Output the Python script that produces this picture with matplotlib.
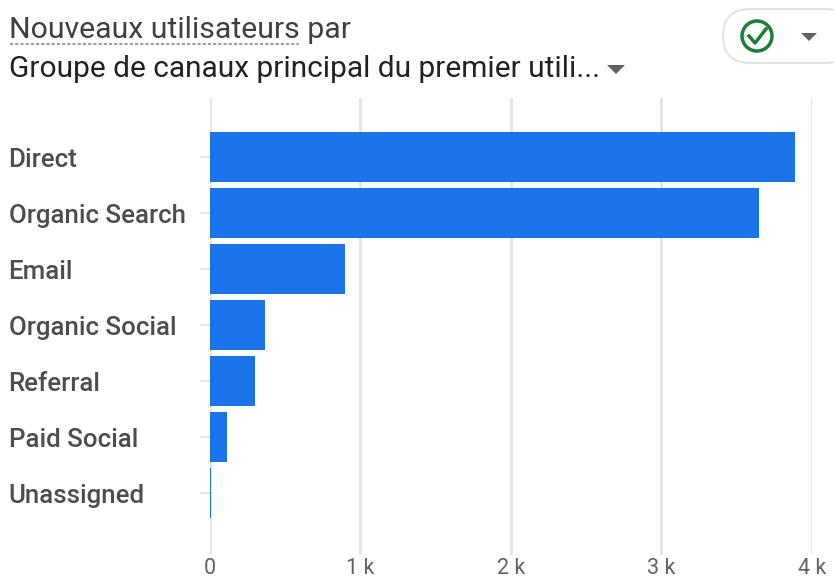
import matplotlib
matplotlib.use("Agg")
import matplotlib.pyplot as plt
from matplotlib.patches import FancyBboxPatch, Circle, Polygon

categories = ["Direct", "Organic Search", "Email", "Organic Social", "Referral", "Paid Social", "Unassigned"]
values = [3890, 3650, 897, 368, 300, 115, 8]
tick_values = [0, 1000, 2000, 3000, 4000]
tick_labels = ["0", "1 k", "2 k", "3 k", "4 k"]

W, H = 834, 578
plt.rcParams['font.family'] = ['Roboto', 'DejaVu Sans']
fig = plt.figure(figsize=(W/100, H/100), dpi=100)
fig.patch.set_facecolor('white')
ax = fig.add_axes([209.5/W, 1-555/H, (812-209.5)/W, (555-98)/H])
ax.set_xlim(0, 4000)
ax.set_ylim(7.107, -1.054)
ax.set_axisbelow(True)
ax.barh(range(len(categories)), values, height=0.89, color="#1a73e8", zorder=3)
ax.set_xticks(tick_values)
ax.set_xticklabels(tick_labels, fontsize=15.5, color="#5f6368")
ax.tick_params(axis='x', length=0, pad=2.5)
ax.grid(axis='x', color="#e3e4e6", linewidth=2)
ax.set_yticks(range(len(categories)))
ax.set_yticklabels(categories, fontsize=18.6, color="#4a4e52", ha='left', fontweight='medium')
ax.tick_params(axis='y', length=7.2, width=1.5, color="#e3e4e6", pad=137.5)
for s in ax.spines.values():
    s.set_visible(False)

ov = fig.add_axes([0, 0, 1, 1], zorder=5)
ov.set_xlim(0, W); ov.set_ylim(H, 0); ov.axis('off'); ov.patch.set_alpha(0)
ov.text(9, 30, "Nouveaux utilisateurs par", fontsize=21.8, color="#3c4043", va='center', ha='left')
ov.plot([10, 299], [44, 44], color="#9aa0a6", lw=1.5, ls=(0, (1.5, 1)))
ov.text(9, 69, "Groupe de canaux principal du premier utili...", fontsize=21.5, color="#202124", va='center', ha='left')
ov.add_patch(Polygon([[607, 65], [625, 65], [616, 74]], closed=True, fc="#5f6368", ec='none'))
ov.add_patch(FancyBboxPatch((723, 9), 130, 54, boxstyle="round,pad=0,rounding_size=27", fc='white', ec="#e3e4e6", lw=1.5))
ov.add_patch(Circle((757, 36), 15, fc='none', ec="#188038", lw=2.5))
ov.plot([749, 755, 766], [36, 43, 29], color="#188038", lw=2.5)
ov.add_patch(Polygon([[801, 33], [817, 33], [809, 41]], closed=True, fc="#5f6368", ec='none'))
fig.savefig("out.png", dpi=100)
